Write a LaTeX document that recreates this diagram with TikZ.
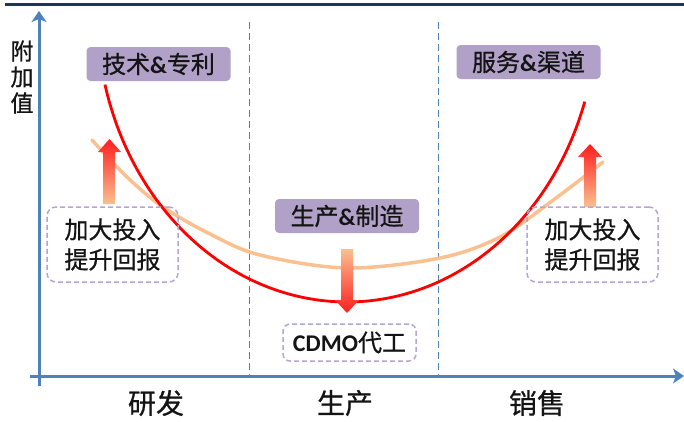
\documentclass[tikz,border=0pt]{standalone}
\usepackage{fontspec}
\setmainfont{Noto Sans CJK SC}[FakeBold=0.7]
\newfontfamily\latfont{Carlito}
\usetikzlibrary{arrows.meta}
\definecolor{axisblue}{RGB}{79,129,189}
\definecolor{navyline}{RGB}{23,55,94}
\definecolor{boxpurple}{RGB}{177,160,199}
\definecolor{dashpurple}{RGB}{180,165,210}
\definecolor{peach}{RGB}{250,192,144}
\definecolor{arrred}{RGB}{255,30,30}
\definecolor{txt}{RGB}{20,20,20}
\begin{document}
\begin{tikzpicture}[x=1pt,y=-1pt,
  purplebox/.style={fill=boxpurple, rounded corners=4pt, minimum width=144pt, minimum height=34pt, inner sep=0pt, text=txt, font=\fontsize{24}{26}\selectfont},
  dashbox/.style={draw=dashpurple, line width=1.5pt, dash pattern=on 5pt off 3pt, rounded corners=9pt, inner sep=0pt, align=center, text=txt, font=\fontsize{24}{30}\selectfont},
  axislabel/.style={inner sep=0pt, text=txt, font=\fontsize{28}{30}\selectfont},
  axisline/.style={draw=axisblue, line width=3pt, -{Stealth[length=11pt,width=15pt,inset=3pt]}},
  sepline/.style={draw=axisblue, line width=0.8pt, dash pattern=on 7pt off 4pt},
  gradarrow/.style={top color=arrred, bottom color=peach}
]
\useasboundingbox (0,0) rectangle (684,421);
% top rule
\coordinate (tl) at (5,4);
\coordinate (tr) at (684,4);
\draw[navyline, line width=3pt] (tl) -- (tr);
% separators
\coordinate (s1t) at (249,22);
\coordinate (s1b) at (249,376);
\coordinate (s2t) at (438,22);
\coordinate (s2b) at (438,376);
\draw[sepline] (s1t) -- (s1b);
\draw[sepline] (s2t) -- (s2b);
% axes
\coordinate (ybot) at (39,386);
\coordinate (ytop) at (39,11);
\coordinate (xl) at (30,376);
\coordinate (xr) at (684,376);
\draw[axisline] (ybot) -- (ytop);
\draw[axisline] (xl) -- (xr);
% y label
\node[inner sep=0pt, text=txt, align=center, font=\fontsize{23}{26}\selectfont] (ylab) at (22,77) {附\\加\\值};
% x labels
\node[axislabel] (lab1) at (156,403) {研发};
\node[axislabel] (lab2) at (345,403) {生产};
\node[axislabel] (lab3) at (537,403) {销售};
% curves
\draw[peach, line width=3.5pt, line cap=round] plot[smooth, tension=0.55] coordinates {(92,140) (128,178) (163,207) (210,234) (260,255) (347,268) (440,258) (500,237) (552,201) (603,162)};
\draw[red, line width=2.8pt] plot[domain=165.5:18, samples=120, variable=\t] ({347+250*cos(\t)}, {12+290*sin(\t)});
% gradient arrows
\shade[gradarrow] (103,204) -- (103,152) -- (98,152) -- (109.5,139) -- (121,152) -- (115,152) -- (115,204) -- cycle;
\shade[gradarrow] (584,207) -- (584,157) -- (578,157) -- (590,144) -- (602,157) -- (596,157) -- (596,207) -- cycle;
\shade[top color=peach, bottom color=arrred] (341,249) -- (353,249) -- (353,300) -- (359,300) -- (347,313) -- (335,300) -- (341,300) -- cycle;
% purple boxes
\node[purplebox] (tech) at (158.5,64) {技术{\latfont\bfseries\&}专利};
\node[purplebox] (serv) at (528.5,62) {服务{\latfont\bfseries\&}渠道};
\node[purplebox] (prod) at (347,216) {生产{\latfont\bfseries\&}制造};
% dashed boxes
\node[dashbox, minimum width=131pt, minimum height=75pt] (invl) at (112.5,244.5) {加大投入\\提升回报};
\node[dashbox, minimum width=131pt, minimum height=75pt] (invr) at (592.5,244.5) {加大投入\\提升回报};
\node[dashbox, minimum width=133pt, minimum height=37pt, rounded corners=7pt, font=\fontsize{24}{26}\selectfont] (cdmo) at (349.5,342.5) {{\latfont\bfseries CDMO}代工};
\end{tikzpicture}
\end{document}
